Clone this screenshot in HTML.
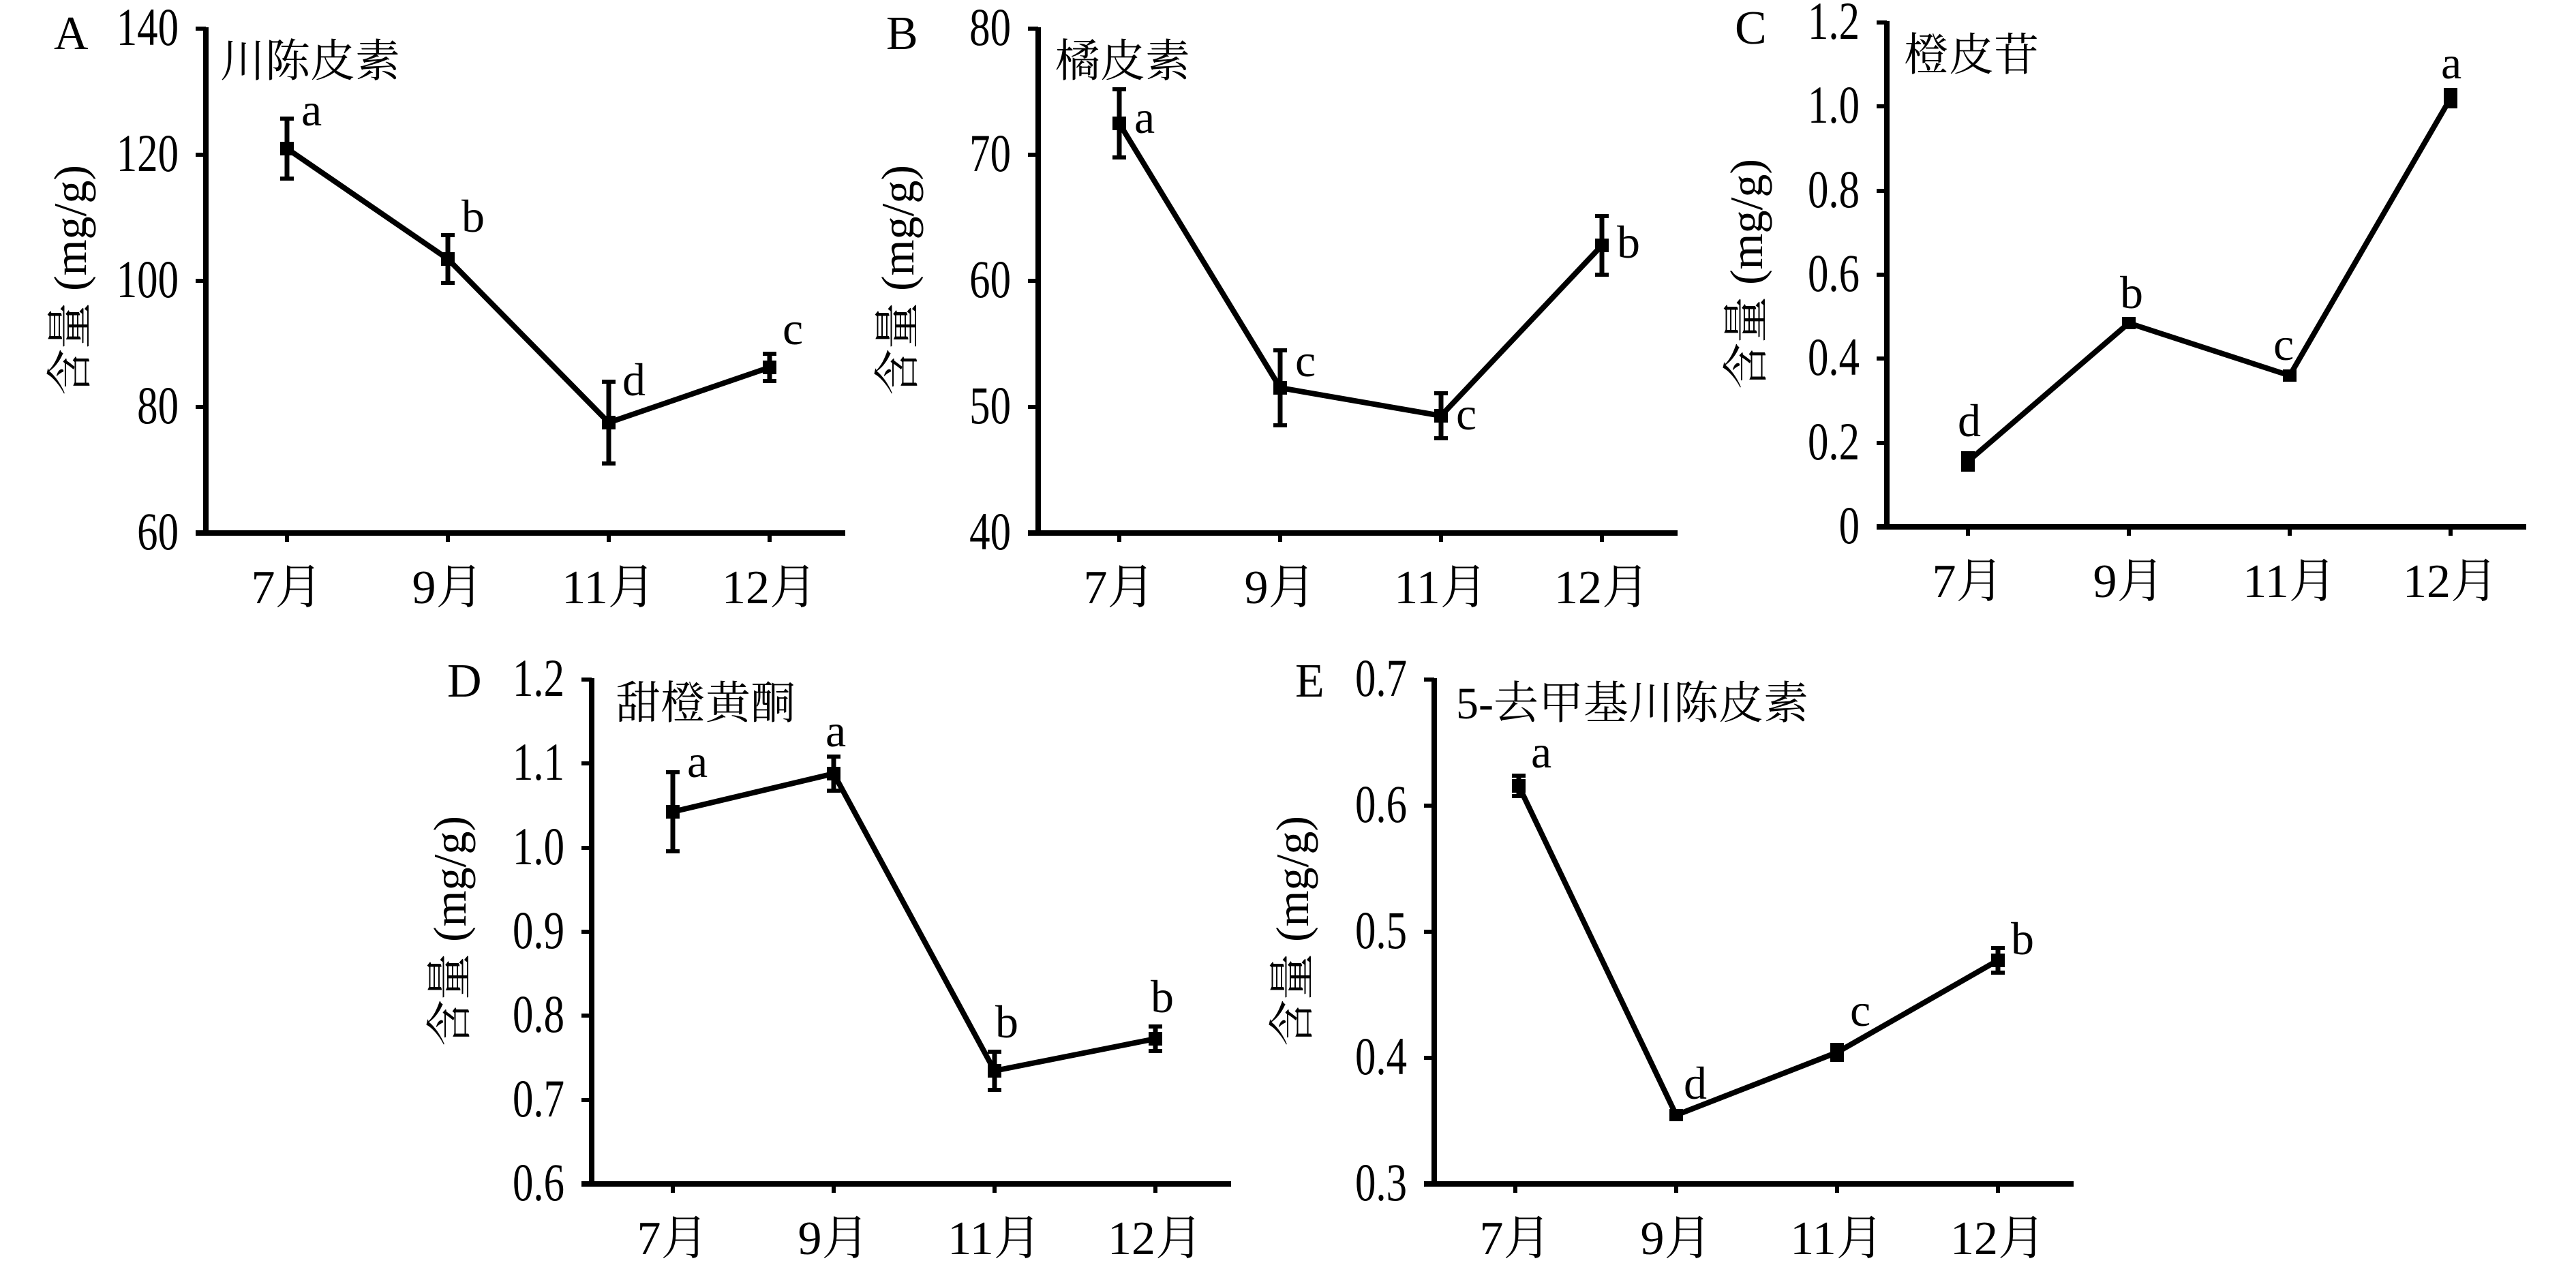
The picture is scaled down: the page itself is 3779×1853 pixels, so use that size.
<!DOCTYPE html>
<html><head><meta charset="utf-8"><style>
html,body{margin:0;padding:0;background:#fff}
svg{display:block}
text{font-family:"Liberation Serif","Noto Serif CJK SC","Noto Sans CJK SC",serif;fill:#000}
.t{font-size:78px;text-anchor:end}
.x{font-size:70px;text-anchor:middle}
.l{font-size:68px}
.h{font-size:66px}
.p{font-size:70px}
.yl{font-size:68px;text-anchor:middle}
.ax{stroke:#000;stroke-width:8;fill:none}
.tk{stroke:#000;stroke-width:6}
.ln{stroke:#000;stroke-width:8;fill:none;stroke-linejoin:round}
.eb{stroke:#000;stroke-width:7}
.cap{stroke:#000;stroke-width:6}
</style></head><body>
<svg width="3779" height="1853" viewBox="0 0 3779 1853" xmlns="http://www.w3.org/2000/svg">

<!-- Panel A -->
<g>
<line class="ax" x1="302" y1="40" x2="302" y2="782"/>
<line class="ax" x1="287" y1="782" x2="1240" y2="782"/>
<line class="tk" x1="287" y1="42" x2="302" y2="42"/>
<line class="tk" x1="287" y1="227" x2="302" y2="227"/>
<line class="tk" x1="287" y1="412" x2="302" y2="412"/>
<line class="tk" x1="287" y1="597" x2="302" y2="597"/>
<line class="tk" x1="421" y1="782" x2="421" y2="795"/>
<line class="tk" x1="657" y1="782" x2="657" y2="795"/>
<line class="tk" x1="893" y1="782" x2="893" y2="795"/>
<line class="tk" x1="1129" y1="782" x2="1129" y2="795"/>
<text class="t" transform="translate(262,66) scale(0.78,1)">140</text>
<text class="t" transform="translate(262,251) scale(0.78,1)">120</text>
<text class="t" transform="translate(262,436) scale(0.78,1)">100</text>
<text class="t" transform="translate(262,621) scale(0.78,1)">80</text>
<text class="t" transform="translate(262,806) scale(0.78,1)">60</text>
<text class="x" x="421" y="885">7月</text>
<text class="x" x="657" y="885">9月</text>
<text class="x" x="893" y="885">11月</text>
<text class="x" x="1129" y="885">12月</text>
<text class="p" x="79" y="72">A</text>
<text class="h" x="323" y="112">川陈皮素</text>
<text class="yl" transform="translate(126,411) rotate(-90)">含量 (mg/g)</text>
<polyline class="ln" points="421,218 657,380 893,620 1129,539"/>
<line class="eb" x1="421" y1="174" x2="421" y2="262"/><line class="cap" x1="411" y1="174" x2="431" y2="174"/><line class="cap" x1="411" y1="262" x2="431" y2="262"/>
<line class="eb" x1="657" y1="345" x2="657" y2="415"/><line class="cap" x1="647" y1="345" x2="667" y2="345"/><line class="cap" x1="647" y1="415" x2="667" y2="415"/>
<line class="eb" x1="893" y1="560" x2="893" y2="680"/><line class="cap" x1="883" y1="560" x2="903" y2="560"/><line class="cap" x1="883" y1="680" x2="903" y2="680"/>
<line class="eb" x1="1129" y1="519" x2="1129" y2="559"/><line class="cap" x1="1119" y1="519" x2="1139" y2="519"/><line class="cap" x1="1119" y1="559" x2="1139" y2="559"/>
<rect x="411" y="208" width="20" height="20"/><rect x="647" y="370" width="20" height="20"/><rect x="883" y="610" width="20" height="20"/><rect x="1119" y="529" width="20" height="20"/>
<text class="l" x="442" y="184">a</text>
<text class="l" x="677" y="340">b</text>
<text class="l" x="913" y="580">d</text>
<text class="l" x="1148" y="505">c</text>
</g>

<!-- Panel B -->
<g>
<line class="ax" x1="1523" y1="40" x2="1523" y2="782"/>
<line class="ax" x1="1508" y1="782" x2="2461" y2="782"/>
<line class="tk" x1="1508" y1="42" x2="1523" y2="42"/>
<line class="tk" x1="1508" y1="227" x2="1523" y2="227"/>
<line class="tk" x1="1508" y1="412" x2="1523" y2="412"/>
<line class="tk" x1="1508" y1="597" x2="1523" y2="597"/>
<line class="tk" x1="1642" y1="782" x2="1642" y2="795"/>
<line class="tk" x1="1878" y1="782" x2="1878" y2="795"/>
<line class="tk" x1="2114" y1="782" x2="2114" y2="795"/>
<line class="tk" x1="2350" y1="782" x2="2350" y2="795"/>
<text class="t" transform="translate(1483,66) scale(0.78,1)">80</text>
<text class="t" transform="translate(1483,251) scale(0.78,1)">70</text>
<text class="t" transform="translate(1483,436) scale(0.78,1)">60</text>
<text class="t" transform="translate(1483,621) scale(0.78,1)">50</text>
<text class="t" transform="translate(1483,806) scale(0.78,1)">40</text>
<text class="x" x="1642" y="885">7月</text>
<text class="x" x="1878" y="885">9月</text>
<text class="x" x="2114" y="885">11月</text>
<text class="x" x="2350" y="885">12月</text>
<text class="p" x="1300" y="72">B</text>
<text class="h" x="1548" y="112">橘皮素</text>
<text class="yl" transform="translate(1340,411) rotate(-90)">含量 (mg/g)</text>
<polyline class="ln" points="1642,181 1878,569 2114,610 2350,360"/>
<line class="eb" x1="1642" y1="131" x2="1642" y2="231"/><line class="cap" x1="1632" y1="131" x2="1652" y2="131"/><line class="cap" x1="1632" y1="231" x2="1652" y2="231"/>
<line class="eb" x1="1878" y1="514" x2="1878" y2="624"/><line class="cap" x1="1868" y1="514" x2="1888" y2="514"/><line class="cap" x1="1868" y1="624" x2="1888" y2="624"/>
<line class="eb" x1="2114" y1="577" x2="2114" y2="643"/><line class="cap" x1="2104" y1="577" x2="2124" y2="577"/><line class="cap" x1="2104" y1="643" x2="2124" y2="643"/>
<line class="eb" x1="2350" y1="317" x2="2350" y2="403"/><line class="cap" x1="2340" y1="317" x2="2360" y2="317"/><line class="cap" x1="2340" y1="403" x2="2360" y2="403"/>
<rect x="1632" y="171" width="20" height="20"/><rect x="1868" y="559" width="20" height="20"/><rect x="2104" y="600" width="20" height="20"/><rect x="2340" y="350" width="20" height="20"/>
<text class="l" x="1664" y="195">a</text>
<text class="l" x="1900" y="552">c</text>
<text class="l" x="2136" y="630">c</text>
<text class="l" x="2372" y="378">b</text>
</g>

<!-- Panel C -->
<g>
<line class="ax" x1="2768" y1="31" x2="2768" y2="773"/>
<line class="ax" x1="2753" y1="773" x2="3706" y2="773"/>
<line class="tk" x1="2753" y1="33" x2="2768" y2="33"/>
<line class="tk" x1="2753" y1="156" x2="2768" y2="156"/>
<line class="tk" x1="2753" y1="280" x2="2768" y2="280"/>
<line class="tk" x1="2753" y1="403" x2="2768" y2="403"/>
<line class="tk" x1="2753" y1="526" x2="2768" y2="526"/>
<line class="tk" x1="2753" y1="650" x2="2768" y2="650"/>
<line class="tk" x1="2887" y1="773" x2="2887" y2="786"/>
<line class="tk" x1="3123" y1="773" x2="3123" y2="786"/>
<line class="tk" x1="3359" y1="773" x2="3359" y2="786"/>
<line class="tk" x1="3595" y1="773" x2="3595" y2="786"/>
<text class="t" transform="translate(2728,57) scale(0.78,1)">1.2</text>
<text class="t" transform="translate(2728,180) scale(0.78,1)">1.0</text>
<text class="t" transform="translate(2728,304) scale(0.78,1)">0.8</text>
<text class="t" transform="translate(2728,427) scale(0.78,1)">0.6</text>
<text class="t" transform="translate(2728,550) scale(0.78,1)">0.4</text>
<text class="t" transform="translate(2728,674) scale(0.78,1)">0.2</text>
<text class="t" transform="translate(2728,797) scale(0.78,1)">0</text>
<text class="x" x="2887" y="876">7月</text>
<text class="x" x="3123" y="876">9月</text>
<text class="x" x="3359" y="876">11月</text>
<text class="x" x="3595" y="876">12月</text>
<text class="p" x="2545" y="64">C</text>
<text class="h" x="2793" y="103">橙皮苷</text>
<text class="yl" transform="translate(2585,402) rotate(-90)">含量 (mg/g)</text>
<polyline class="ln" points="2887,677 3123,474 3359,551 3595,144"/>
<line class="eb" x1="2887" y1="665" x2="2887" y2="689"/><line class="cap" x1="2877" y1="665" x2="2897" y2="665"/><line class="cap" x1="2877" y1="689" x2="2897" y2="689"/>
<line class="eb" x1="3595" y1="132" x2="3595" y2="156"/><line class="cap" x1="3585" y1="132" x2="3605" y2="132"/><line class="cap" x1="3585" y1="156" x2="3605" y2="156"/>
<rect x="2877" y="667" width="20" height="20"/><rect x="3113" y="465" width="20" height="18"/><rect x="3349" y="542" width="20" height="18"/><rect x="3585" y="134" width="20" height="20"/>
<text class="l" x="2872" y="640">d</text>
<text class="l" x="3110" y="452">b</text>
<text class="l" x="3335" y="528">c</text>
<text class="l" x="3581" y="115">a</text>
</g>

<!-- Panel D -->
<g>
<line class="ax" x1="868" y1="995" x2="868" y2="1737"/>
<line class="ax" x1="853" y1="1737" x2="1806" y2="1737"/>
<line class="tk" x1="853" y1="997" x2="868" y2="997"/>
<line class="tk" x1="853" y1="1120" x2="868" y2="1120"/>
<line class="tk" x1="853" y1="1244" x2="868" y2="1244"/>
<line class="tk" x1="853" y1="1367" x2="868" y2="1367"/>
<line class="tk" x1="853" y1="1490" x2="868" y2="1490"/>
<line class="tk" x1="853" y1="1614" x2="868" y2="1614"/>
<line class="tk" x1="987" y1="1737" x2="987" y2="1750"/>
<line class="tk" x1="1223" y1="1737" x2="1223" y2="1750"/>
<line class="tk" x1="1459" y1="1737" x2="1459" y2="1750"/>
<line class="tk" x1="1695" y1="1737" x2="1695" y2="1750"/>
<text class="t" transform="translate(828,1021) scale(0.78,1)">1.2</text>
<text class="t" transform="translate(828,1144) scale(0.78,1)">1.1</text>
<text class="t" transform="translate(828,1268) scale(0.78,1)">1.0</text>
<text class="t" transform="translate(828,1391) scale(0.78,1)">0.9</text>
<text class="t" transform="translate(828,1514) scale(0.78,1)">0.8</text>
<text class="t" transform="translate(828,1638) scale(0.78,1)">0.7</text>
<text class="t" transform="translate(828,1761) scale(0.78,1)">0.6</text>
<text class="x" x="987" y="1840">7月</text>
<text class="x" x="1223" y="1840">9月</text>
<text class="x" x="1459" y="1840">11月</text>
<text class="x" x="1695" y="1840">12月</text>
<text class="p" x="656" y="1022">D</text>
<text class="h" x="903" y="1054">甜橙黄酮</text>
<text class="yl" transform="translate(683,1366) rotate(-90)">含量 (mg/g)</text>
<polyline class="ln" points="987,1191 1223,1135 1459,1571 1695,1524"/>
<line class="eb" x1="987" y1="1133" x2="987" y2="1249"/><line class="cap" x1="977" y1="1133" x2="997" y2="1133"/><line class="cap" x1="977" y1="1249" x2="997" y2="1249"/>
<line class="eb" x1="1223" y1="1110" x2="1223" y2="1160"/><line class="cap" x1="1213" y1="1110" x2="1233" y2="1110"/><line class="cap" x1="1213" y1="1160" x2="1233" y2="1160"/>
<line class="eb" x1="1459" y1="1543" x2="1459" y2="1599"/><line class="cap" x1="1449" y1="1543" x2="1469" y2="1543"/><line class="cap" x1="1449" y1="1599" x2="1469" y2="1599"/>
<line class="eb" x1="1695" y1="1506" x2="1695" y2="1542"/><line class="cap" x1="1685" y1="1506" x2="1705" y2="1506"/><line class="cap" x1="1685" y1="1542" x2="1705" y2="1542"/>
<rect x="977" y="1181" width="20" height="20"/><rect x="1213" y="1125" width="20" height="20"/><rect x="1449" y="1561" width="20" height="20"/><rect x="1685" y="1514" width="20" height="20"/>
<text class="l" x="1008" y="1140">a</text>
<text class="l" x="1211" y="1095">a</text>
<text class="l" x="1460" y="1522">b</text>
<text class="l" x="1688" y="1485">b</text>
</g>

<!-- Panel E -->
<g>
<line class="ax" x1="2104" y1="995" x2="2104" y2="1737"/>
<line class="ax" x1="2089" y1="1737" x2="3042" y2="1737"/>
<line class="tk" x1="2089" y1="997" x2="2104" y2="997"/>
<line class="tk" x1="2089" y1="1182" x2="2104" y2="1182"/>
<line class="tk" x1="2089" y1="1367" x2="2104" y2="1367"/>
<line class="tk" x1="2089" y1="1552" x2="2104" y2="1552"/>
<line class="tk" x1="2223" y1="1737" x2="2223" y2="1750"/>
<line class="tk" x1="2459" y1="1737" x2="2459" y2="1750"/>
<line class="tk" x1="2695" y1="1737" x2="2695" y2="1750"/>
<line class="tk" x1="2931" y1="1737" x2="2931" y2="1750"/>
<text class="t" transform="translate(2064,1021) scale(0.78,1)">0.7</text>
<text class="t" transform="translate(2064,1206) scale(0.78,1)">0.6</text>
<text class="t" transform="translate(2064,1391) scale(0.78,1)">0.5</text>
<text class="t" transform="translate(2064,1576) scale(0.78,1)">0.4</text>
<text class="t" transform="translate(2064,1761) scale(0.78,1)">0.3</text>
<text class="x" x="2223" y="1840">7月</text>
<text class="x" x="2459" y="1840">9月</text>
<text class="x" x="2695" y="1840">11月</text>
<text class="x" x="2931" y="1840">12月</text>
<text class="p" x="1900" y="1022">E</text>
<text class="h" x="2136" y="1054">5-去甲基川陈皮素</text>
<text class="yl" transform="translate(1919,1366) rotate(-90)">含量 (mg/g)</text>
<polyline class="ln" points="2228,1153 2459,1636 2695,1544 2931,1409"/>
<line class="eb" x1="2228" y1="1138" x2="2228" y2="1168"/><line class="cap" x1="2218" y1="1138" x2="2238" y2="1138"/><line class="cap" x1="2218" y1="1168" x2="2238" y2="1168"/>
<line class="eb" x1="2695" y1="1533" x2="2695" y2="1555"/><line class="cap" x1="2685" y1="1533" x2="2705" y2="1533"/><line class="cap" x1="2685" y1="1555" x2="2705" y2="1555"/>
<line class="eb" x1="2931" y1="1391" x2="2931" y2="1427"/><line class="cap" x1="2921" y1="1391" x2="2941" y2="1391"/><line class="cap" x1="2921" y1="1427" x2="2941" y2="1427"/>
<rect x="2218" y="1143" width="20" height="20"/><rect x="2449" y="1627" width="20" height="18"/><rect x="2685" y="1534" width="20" height="20"/><rect x="2921" y="1399" width="20" height="20"/>
<text class="l" x="2246" y="1126">a</text>
<text class="l" x="2470" y="1612">d</text>
<text class="l" x="2714" y="1505">c</text>
<text class="l" x="2950" y="1400">b</text>
</g>
</svg>
</body></html>
